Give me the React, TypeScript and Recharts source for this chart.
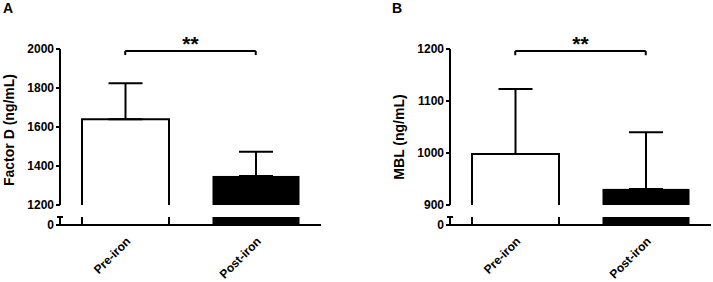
import React from "react";
import { BarChart, Bar, XAxis, YAxis, ErrorBar, ReferenceLine } from "recharts";

const categories = ["Pre-iron", "Post-iron"];

// panel A: Factor D
const factorDMean = [1640, 1349];
const factorDSd = [185, 124];
const factorDTicks = [1200, 1400, 1600, 1800, 2000];

// panel B: MBL
const mblMean = [998, 931];
const mblSd = [125, 109];
const mblTicks = [900, 1000, 1100, 1200];

const FONT = '"Liberation Sans", Arial, sans-serif';

function BarShape(props: any) {
  const { x, y, width, height, index } = props;
  if (index === 0) {
    // open bottom, white bar
    return (
      <path
        d={`M${x},${y + height} L${x},${y} L${x + width},${y} L${x + width},${y + height}`}
        fill="#fff"
        stroke="#000"
        strokeWidth={2}
      />
    );
  }
  return <rect x={x} y={y} width={width} height={height} fill="#000" />;
}

function YLabel({ labelX, labelY, text }: any) {
  return (
    <text
      x={labelX}
      y={labelY}
      transform={`rotate(-90 ${labelX} ${labelY})`}
      textAnchor="middle"
      dy="0.355em"
      fontSize={14}
      fontWeight="bold"
      fill="#000"
    >
      {text}
    </text>
  );
}

function YTick({ y, payload, axisX }: any) {
  return (
    <text x={axisX - 6} y={y} dy="0.355em" textAnchor="end" fontSize={12} fontWeight="bold" fill="#000">
      {payload.value}
    </text>
  );
}

function LowTick({ y, payload, axisX }: any) {
  if (payload.value === 0) {
    return (
      <g>
        <line x1={axisX - 4} y1={y} x2={axisX} y2={y} stroke="#000" strokeWidth={2} />
        <text x={axisX - 6} y={y} dy="0.355em" textAnchor="end" fontSize={12} fontWeight="bold" fill="#000">
          0
        </text>
      </g>
    );
  }
  // break mark at top of the lower segment
  return <line x1={axisX - 3} y1={y} x2={axisX + 3} y2={y} stroke="#000" strokeWidth={2} />;
}

function Panel({
  left,
  axisWidth,
  width,
  letter,
  yLabel,
  labelX,
  labelY,
  mean,
  sd,
  ticks,
  lowMax,
  bracketY,
  bracketDrop,
}: any) {
  const data = categories.map((c, i) => ({ category: c, value: mean[i], err: [0, sd[i]] }));
  const lowData = categories.map((c, i) => ({ category: c, value: mean[i] }));
  const domain = [ticks[0], ticks[ticks.length - 1]];
  return (
    <>
      <div style={{ position: "absolute", left: left + (letter === "A" ? 3 : 32), top: 0, fontSize: 14, lineHeight: "16px", fontWeight: "bold" }}>
        {letter}
      </div>
      <div style={{ position: "absolute", left, top: 210 }}>
        <BarChart width={width} height={72} data={lowData} margin={{ top: 7, right: 2, bottom: 0, left: 0 }} barSize={87}>
          <XAxis
            dataKey="category"
            height={57}
            axisLine={{ stroke: "#000", strokeWidth: 2 }}
            tickLine={{ stroke: "#000", strokeWidth: 2 }}
            tickSize={5}
            tick={false}
          />
          <YAxis
            type="number"
            domain={[0, lowMax]}
            ticks={[0, lowMax]}
            interval={0}
            allowDataOverflow
            width={axisWidth}
            axisLine={{ stroke: "#000", strokeWidth: 2 }}
            tickLine={false}
            tick={(p: any) => <LowTick {...p} axisX={axisWidth} />}
          />
          <Bar dataKey="value" shape={<BarShape />} isAnimationActive={false} />
        </BarChart>
      </div>
      <div style={{ position: "absolute", left, top: 0 }}>
        <BarChart width={width} height={282} data={data} margin={{ top: 49, right: 2, bottom: 0, left: 0 }} barSize={87}>
          {/* category labels sit below the axis break, so they hang from the upper chart's x axis */}
          <XAxis
            dataKey="category"
            height={77}
            interval={0}
            axisLine={false}
            tickLine={false}
            tickSize={29}
            tickMargin={2}
            tick={{ angle: -45, textAnchor: "end", fontSize: 12, fontWeight: "bold", fill: "#000" }}
          />
          <YAxis
            type="number"
            domain={domain}
            ticks={ticks}
            interval={0}
            width={axisWidth}
            axisLine={{ stroke: "#000", strokeWidth: 2 }}
            tickLine={{ stroke: "#000", strokeWidth: 2 }}
            tickSize={4}
            tick={(p: any) => <YTick {...p} axisX={axisWidth} />}
            label={<YLabel labelX={labelX} labelY={labelY} text={yLabel} />}
          />
          <Bar dataKey="value" shape={<BarShape />} isAnimationActive={false}>
            <ErrorBar dataKey="err" direction="y" width={17} stroke="#000" strokeWidth={2} />
          </Bar>
          <ReferenceLine
            segment={[
              { x: categories[0], y: bracketY },
              { x: categories[1], y: bracketY },
            ]}
            stroke="#000"
            strokeWidth={2}
            label={{ value: "**", position: "top", offset: 0, fontSize: 21, fontWeight: "bold", fill: "#000" }}
          />
          <ReferenceLine
            segment={[
              { x: categories[0], y: bracketY },
              { x: categories[0], y: bracketDrop },
            ]}
            stroke="#000"
            strokeWidth={2}
          />
          <ReferenceLine
            segment={[
              { x: categories[1], y: bracketY },
              { x: categories[1], y: bracketDrop },
            ]}
            stroke="#000"
            strokeWidth={2}
          />
        </BarChart>
      </div>
    </>
  );
}

export default function App() {
  return (
    <div
      style={{
        position: "absolute",
        left: 0,
        top: 0,
        width: 713,
        height: 282,
        background: "#fff",
        fontFamily: FONT,
        overflow: "hidden",
      }}
    >
      <Panel
        left={0}
        axisWidth={60}
        width={323}
        letter="A"
        yLabel="Factor  D (ng/mL)"
        labelX={9}
        labelY={130}
        mean={factorDMean}
        sd={factorDSd}
        ticks={factorDTicks}
        lowMax={50}
        bracketY={1990}
        bracketDrop={1969}
      />
      <Panel
        left={360}
        axisWidth={90}
        width={353}
        letter="B"
        yLabel="MBL (ng/mL)"
        labelX={39}
        labelY={137}
        mean={mblMean}
        sd={mblSd}
        ticks={mblTicks}
        lowMax={20}
        bracketY={1196}
        bracketDrop={1188}
      />
    </div>
  );
}
